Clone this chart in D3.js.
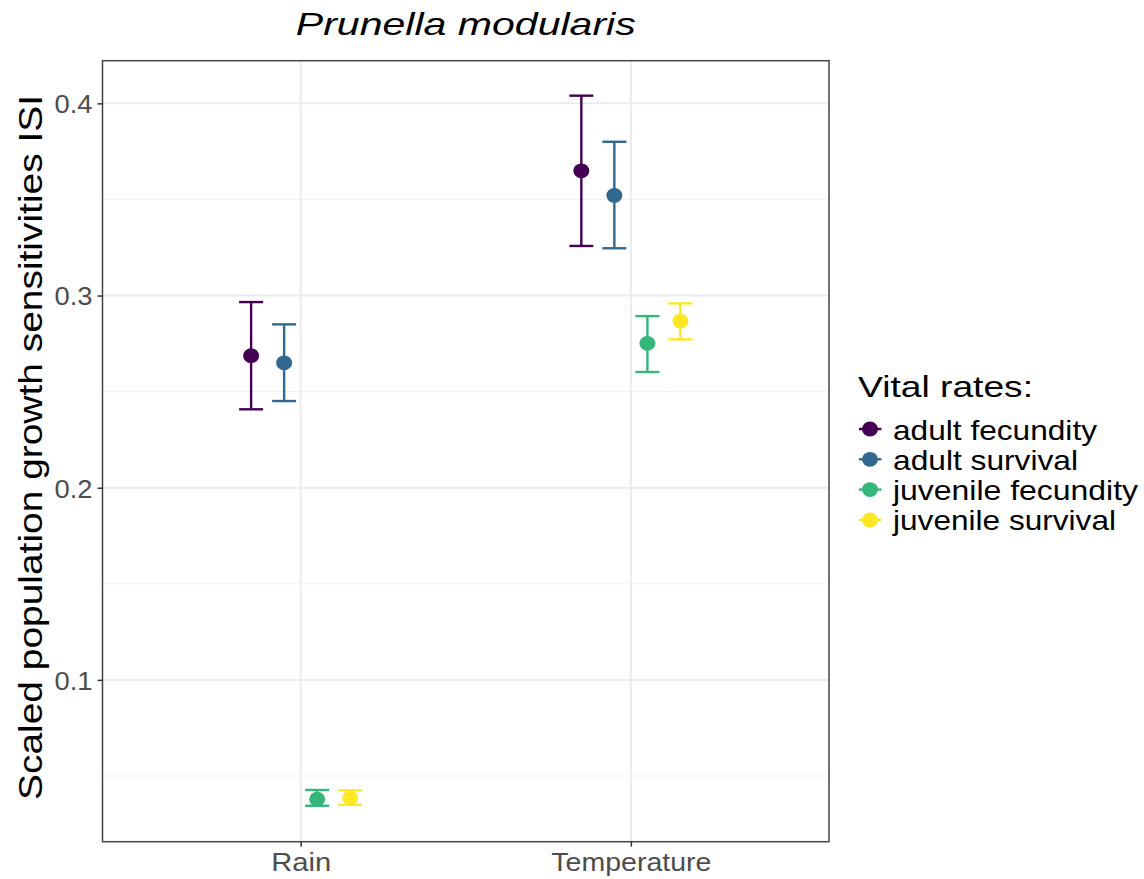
<!DOCTYPE html>
<html><head><meta charset="utf-8">
<script src="https://cdn.jsdelivr.net/npm/d3@7"></script>
<style>body{margin:0;background:#fff;} text{font-family:"Liberation Sans",Arial,sans-serif;}</style>
</head><body><svg id="c" width="1144" height="879"></svg>
<script>
const categories = ["Rain", "Temperature"];
const seriesNames = ["adult fecundity", "adult survival", "juvenile fecundity", "juvenile survival"];
const seriesColors = ["#440154", "#31688E", "#35B779", "#FDE725"];
// values per series: [Rain, Temperature]
const meanVals = [[0.2687, 0.3649], [0.2650, 0.3521], [0.0379, 0.2751], [0.0386, 0.2867]];
const lowerVals = [[0.2408, 0.3258], [0.2451, 0.3246], [0.0345, 0.2602], [0.0350, 0.2772]];
const upperVals = [[0.2966, 0.4040], [0.2850, 0.3800], [0.0427, 0.2893], [0.0425, 0.2959]];
const yMajor = [0.1, 0.2, 0.3, 0.4];
const yMinor = [0.05, 0.15, 0.25, 0.35];

// layout: measured text widths of the reference rendering (font is horizontally wider)
const textWidths = {
  "Prunella modularis": 340, "Scaled population growth sensitivities ISI": 705,
  "Vital rates:": 175, "adult fecundity": 204, "adult survival": 185,
  "juvenile fecundity": 245, "juvenile survival": 223,
  "Rain": 60, "Temperature": 160, "0.1": 38, "0.2": 38, "0.3": 38, "0.4": 38
};
function fit(sel) {
  sel.each(function () {
    const t = d3.select(this).text();
    if (textWidths[t]) d3.select(this).attr("textLength", textWidths[t]).attr("lengthAdjust", "spacingAndGlyphs");
  });
}

const svg = d3.select("#c");
const L = 102.5, R = 829, T = 60.7, B = 841.7;
const y = d3.scaleLinear().domain([0.0158, 0.4222]).range([B, T]);
const x = d3.scaleLinear().domain([0.4, 2.6]).range([L, R]);
const dodge = d3.scaleBand().domain(seriesNames).range([-0.2, 0.2]);

const g = svg.append("g");
// grid
g.selectAll(".ymin").data(yMinor).join("line").attr("x1", L).attr("x2", R)
  .attr("y1", d => y(d)).attr("y2", d => y(d)).attr("stroke", "#F2F2F2").attr("stroke-width", 1.1);
g.selectAll(".ymaj").data(yMajor).join("line").attr("x1", L).attr("x2", R)
  .attr("y1", d => y(d)).attr("y2", d => y(d)).attr("stroke", "#EBEBEB").attr("stroke-width", 2);
g.selectAll(".xmaj").data(categories).join("line").attr("y1", T).attr("y2", B)
  .attr("x1", (d, i) => x(i + 1)).attr("x2", (d, i) => x(i + 1)).attr("stroke", "#EBEBEB").attr("stroke-width", 2);

// error bars and points
seriesNames.forEach((s, si) => {
  categories.forEach((c, ci) => {
    const cx = x(ci + 1 + dodge(s) + dodge.bandwidth() / 2);
    const col = seriesColors[si];
    const capW = 12;
    g.append("line").attr("x1", cx).attr("x2", cx).attr("y1", y(lowerVals[si][ci])).attr("y2", y(upperVals[si][ci]))
      .attr("stroke", col).attr("stroke-width", 2.4);
    [lowerVals[si][ci], upperVals[si][ci]].forEach(v => {
      g.append("line").attr("x1", cx - capW).attr("x2", cx + capW).attr("y1", y(v)).attr("y2", y(v))
        .attr("stroke", col).attr("stroke-width", 2.4);
    });
    g.append("ellipse").attr("cx", cx).attr("cy", y(meanVals[si][ci])).attr("rx", 8).attr("ry", 7.4).attr("fill", col);
  });
});

// panel border
g.append("rect").attr("x", L).attr("y", T).attr("width", R - L).attr("height", B - T)
  .attr("fill", "none").attr("stroke", "#444444").attr("stroke-width", 1.5);

// y axis
const yAxis = d3.axisLeft(y).tickValues(yMajor).tickSize(5).tickPadding(5).tickFormat(d3.format(".1f"));
const ya = svg.append("g").attr("transform", `translate(${L},0)`).call(yAxis);
ya.select(".domain").remove();
ya.selectAll(".tick line").attr("stroke", "#333333").attr("stroke-width", 1.5);
ya.selectAll(".tick text").attr("fill", "#4D4D4D").style("font-size", "26px").attr("dy", "0.36em").call(fit);

// x axis
const xAxis = d3.axisBottom(x).tickValues([1, 2]).tickSize(5).tickPadding(5).tickFormat(d => categories[d - 1]);
const xa = svg.append("g").attr("transform", `translate(0,${B})`).call(xAxis);
xa.select(".domain").remove();
xa.selectAll(".tick line").attr("stroke", "#333333").attr("stroke-width", 1.5);
xa.selectAll(".tick text").attr("fill", "#4D4D4D").style("font-size", "26px").attr("dy", "0.76em").call(fit);

// title
svg.append("text").attr("x", (L + R) / 2).attr("y", 35).attr("text-anchor", "middle")
  .style("font-size", "32px").style("font-style", "italic").attr("fill", "#000").text("Prunella modularis").call(fit);
// y label
svg.append("text").attr("transform", `translate(42,447.5) rotate(-90)`).attr("text-anchor", "middle")
  .style("font-size", "33px").attr("fill", "#000").text("Scaled population growth sensitivities ISI").call(fit);

// legend
const lg = svg.append("g");
lg.append("text").attr("x", 858).attr("y", 397).style("font-size", "29px").attr("fill", "#000").text("Vital rates:").call(fit);
seriesNames.forEach((s, i) => {
  const yy = 429 + i * 30.3;
  lg.append("line").attr("x1", 859).attr("x2", 881.5).attr("y1", yy).attr("y2", yy).attr("stroke", seriesColors[i]).attr("stroke-width", 2.4);
  lg.append("ellipse").attr("cx", 870).attr("cy", yy).attr("rx", 8).attr("ry", 7.4).attr("fill", seriesColors[i]);
  lg.append("text").attr("x", 893).attr("y", yy + 10.5).style("font-size", "28px").attr("fill", "#000").text(s).call(fit);
});
</script></body></html>
